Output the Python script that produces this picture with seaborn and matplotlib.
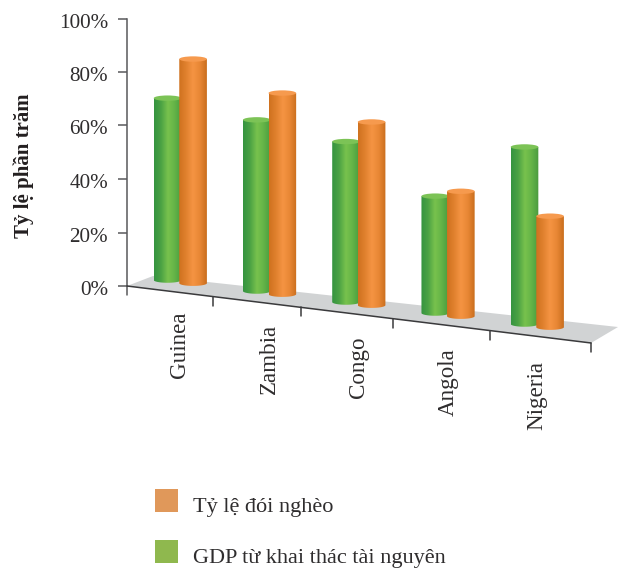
import numpy as np
import pandas as pd
import matplotlib
matplotlib.use("Agg")
import matplotlib.pyplot as plt
from matplotlib.colors import LinearSegmentedColormap
from matplotlib.legend_handler import HandlerPatch
from matplotlib.lines import Line2D
from matplotlib.patches import Ellipse, Patch, Polygon, Rectangle
from matplotlib.path import Path
from matplotlib.transforms import Affine2D, ScaledTranslation
import seaborn as sns

# Chart values
countries = ["Guinea", "Zambia", "Congo", "Angola", "Nigeria"]
gdp_share = [68, 64, 60, 43.7, 66.2]
poverty_rate = [83.8, 75.2, 68.5, 46.7, 41.5]
series_names = ["GDP từ khai thác tài nguyên", "Tỷ lệ đói nghèo"]
percent_ticks = [0, 20, 40, 60, 80, 100]
axis_title = "Tỷ lệ phần trăm"

W, H = 619, 570
SERIF = ["Liberation Serif", "DejaVu Serif"]
TEXT = "#2f2d2e"
AXIS = "#58595b"

sns.set_theme(style="white")
plt.rcParams["font.family"] = SERIF

fig = plt.figure(figsize=(W / 100, H / 100), dpi=100, facecolor="white")
# Axis box: the vertical scale spans y=18.5..286 and the floor front edge x=127..591
ax = fig.add_axes([127 / W, 1 - 286 / H, (591 - 127) / W, (286 - 18.5) / H])
ax.patch.set_visible(False)

df = pd.DataFrame({
    "country": countries * 2,
    "value": gdp_share + poverty_rate,
    "series": [series_names[0]] * 5 + [series_names[1]] * 5,
})
sns.barplot(data=df, x="country", y="value", hue="series", hue_order=series_names,
            width=0.573, ax=ax, legend=False, errorbar=None)

# Slot spacing and origin of the categorical scale, in image pixels
slot, first_slot = 89.25, 180.3
ax.set_xlim((127 - first_slot) / slot, (591 - first_slot) / slot)
ax.set_ylim(0, 100)
ax.set_autoscale_on(False)

px = Affine2D().scale(1, -1).translate(0, H)  # image-pixel coordinates

# Receding floor of the plot
ax.add_patch(Polygon([(127, 286), (153, 276), (618, 327), (591, 343)], closed=True,
                     facecolor="#d1d3d4", edgecolor="none", transform=px, clip_on=False, zorder=1))

# Cylinder shading, left to right across the width
cylinder_maps = [
    LinearSegmentedColormap.from_list("g", ["#359440", "#4ba244", "#78c24d", "#63b347", "#489a3f"]),
    LinearSegmentedColormap.from_list("o", ["#cf711f", "#e0812e", "#f59443", "#e88735", "#c96e1d"]),
]
cap_colors = ["#7cc356", "#f69a4e"]

SLOPE = 0.1232          # downward drift of the bar feet per pixel to the right
FOOT_AT_AXIS = 275.07   # foot height of a bar standing on the vertical axis
CAP_PX = 5.4            # cap ellipse height in pixels
px_per_unit = (286 - 18.5) / 100
cap_h = CAP_PX / px_per_unit
gradient = np.linspace(0, 1, 128).reshape(1, -1)
theta = np.linspace(0, np.pi, 40)

order = 3
for cat in range(len(countries)):
    for s, container in enumerate(ax.containers):
        rect = container.patches[cat]
        rect.set_visible(False)
        xc = rect.get_x() + rect.get_width() / 2
        half = rect.get_width() / 2 * 1.08
        top = rect.get_height()
        xc_px = first_slot + slot * xc
        lift = 286 - (FOOT_AT_AXIS + SLOPE * (xc_px - 127))
        tr = ax.transData + Affine2D().translate(0, lift)

        outline = np.vstack([
            [[xc - half, top], [xc + half, top]],
            np.column_stack([xc + half * np.cos(theta), -cap_h / 2 * np.sin(theta)]),
        ])
        im = ax.imshow(gradient, cmap=cylinder_maps[s], aspect="auto", vmin=0, vmax=1,
                       extent=(xc - half, xc + half, -cap_h / 2, top), transform=tr,
                       interpolation="bilinear", zorder=order)
        im.set_clip_box(fig.bbox)
        im.set_clip_path(Path(np.vstack([outline, outline[:1]]), closed=True), tr)
        ax.add_patch(Ellipse((xc, top), 2 * half, cap_h, facecolor=cap_colors[s],
                             edgecolor="none", transform=tr, clip_on=False, zorder=order + 0.5))
        order += 1

ax.set_xlim((127 - first_slot) / slot, (591 - first_slot) / slot)
ax.set_ylim(0, 100)

# Vertical axis
for side in ["top", "right", "bottom"]:
    ax.spines[side].set_visible(False)
ax.spines["left"].set_bounds(0, 100)
ax.spines["left"].set_color(AXIS)
ax.spines["left"].set_linewidth(1.1)
ax.set_xticks([])
ax.set_xlabel("")
ax.set_ylabel("")
ax.set_yticks(percent_ticks)
ax.set_yticklabels([f"{t}%" for t in percent_ticks], fontsize=15.2, color=TEXT)
ax.tick_params(axis="y", left=True, length=6.5, width=1.1, color=AXIS, pad=7.2)
# Percent labels sit a little below their tick marks
nudge = ScaledTranslation(0, -2 / 100, fig.dpi_scale_trans)
for label in ax.get_yticklabels():
    label.set_transform(label.get_transform() + nudge)
ax.add_line(Line2D([127, 127], [286, 295], color=AXIS, lw=1.1, transform=px, clip_on=False))

# Sloping category axis with its tick marks
axis_y = lambda x: 286 + 0.1228 * (x - 127)
ax.add_line(Line2D([127, 591], [axis_y(127), axis_y(591)], color="#3a3a3c", lw=1.1,
                   transform=px, clip_on=False, zorder=20))
for x in [213, 301, 392.5, 490, 591]:
    ax.add_line(Line2D([x, x], [axis_y(x), axis_y(x) + 9], color="#3a3a3c", lw=1.1,
                       transform=px, clip_on=False, zorder=20))

# Category names, stepping down along the axis
for i, name in enumerate(countries):
    ax.text(180 + 89.3 * i, 311.5 + 12.4 * i, name, rotation=90, ha="center", va="top",
            fontsize=16.6, color=TEXT, transform=px, clip_on=False)

fig.text(24 / W, 1 - 166 / H, axis_title, rotation=90, ha="center", va="center",
         fontsize=15, fontweight="bold", color="#231f20")


# Legend swatches stand on the text baseline
def baseline_swatch(legend, orig_handle, xdescent, ydescent, width, height, fontsize):
    return Rectangle((0, 0), width, height)


handles = [Patch(facecolor="#e0985a", edgecolor="none"), Patch(facecolor="#8fb84e", edgecolor="none")]
fig.legend(handles, [series_names[1], series_names[0]], loc="upper left",
           bbox_to_anchor=(155 / W, 1 - 493 / H), bbox_transform=fig.transFigure,
           frameon=False, fontsize=16, labelcolor=TEXT, borderpad=0, borderaxespad=0,
           handlelength=1.035, handleheight=1.2, handletextpad=0.675, labelspacing=1.225,
           handler_map={Patch: HandlerPatch(patch_func=baseline_swatch)})

fig.savefig("out.png", dpi=100)
